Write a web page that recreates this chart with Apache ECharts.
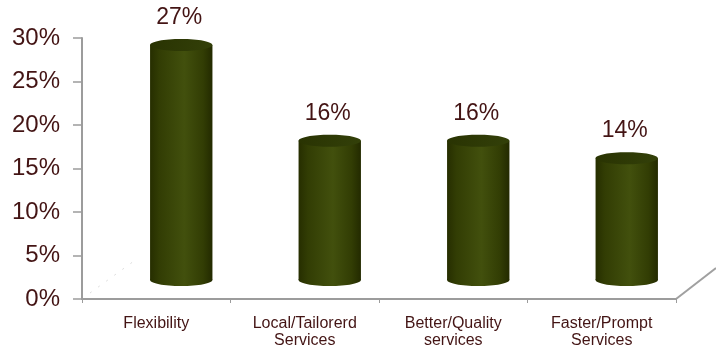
<!DOCTYPE html>
<html>
<head>
<meta charset="utf-8">
<script src="https://cdn.jsdelivr.net/npm/echarts@6/dist/echarts.min.js"></script>
<style>html,body{margin:0;padding:0;background:#fff}#c{width:716px;height:352px}</style>
</head>
<body>
<div id="c"></div>
<script>
const categories = ['Flexibility', 'Local/Tailorerd\nServices', 'Better/Quality\nservices', 'Faster/Prompt\nServices'];
const values = [27, 16, 16, 14];
const yTicks = [0, 5, 10, 15, 20, 25, 30];

const G = {left: 82, right: 40, top: 38, bottom: 53};
const textColor = '#431414';
const DEPTH = 19;     // 3D depth shift (pixels)
const OFFX = 25;      // 3D horizontal shift

const chart = echarts.init(document.getElementById('c'));

function renderCyl(params, api) {
  const i = api.value(0), v = api.value(1);
  const top = api.coord([i, v]);
  const base = api.coord([i, 0]);
  const band = api.size([1, 0])[0];
  const w = band * 0.42;
  const cx = top[0] + OFFX;
  const ry = 6;
  const yTop = top[1] - DEPTH;
  const yBot = base[1] - DEPTH;
  const body = new echarts.graphic.LinearGradient(0, 0, 1, 0, [
    {offset: 0, color: '#262e00'},
    {offset: 0.15, color: '#323d04'},
    {offset: 0.55, color: '#42500d'},
    {offset: 0.85, color: '#323d04'},
    {offset: 1, color: '#232a00'}
  ]);
  return {
    type: 'group',
    children: [
      {type: 'ellipse', shape: {cx: cx, cy: yBot, rx: w / 2, ry: ry}, style: {fill: body}},
      {type: 'rect', shape: {x: cx - w / 2, y: yTop, width: w, height: yBot - yTop}, style: {fill: body}},
      {type: 'ellipse', shape: {cx: cx, cy: yTop, rx: w / 2, ry: ry},
        style: {fill: new echarts.graphic.LinearGradient(0, 0, 1, 1, [
          {offset: 0, color: '#293302'}, {offset: 1, color: '#334009'}
        ])}},
      {type: 'text', style: {text: v + '%', x: cx - 2, y: yTop - ry - 10, align: 'center', verticalAlign: 'bottom',
        font: '23px "Liberation Sans", Arial, sans-serif', fill: textColor}}
    ]
  };
}

chart.setOption({
  animation: false,
  backgroundColor: '#fff',
  grid: G,
  xAxis: {
    type: 'category',
    data: categories,
    axisLine: {lineStyle: {color: '#9c9c9c', width: 2}},
    axisTick: {show: true, length: 4, lineStyle: {color: '#9c9c9c'}},
    axisLabel: {color: textColor, fontSize: 16, fontFamily: '"Liberation Sans", Arial', margin: 16, lineHeight: 17}
  },
  yAxis: {
    type: 'value',
    min: yTicks[0], max: yTicks[yTicks.length - 1], interval: 5,
    axisLine: {show: true, lineStyle: {color: '#9c9c9c', width: 2}},
    axisTick: {show: true, length: 9, lineStyle: {color: '#9c9c9c', width: 1.5}},
    splitLine: {show: false},
    axisLabel: {formatter: '{value}%', color: textColor, fontSize: 24, fontFamily: '"Liberation Sans", Arial', margin: 22}
  },
  series: [{
    type: 'custom',
    renderItem: renderCyl,
    data: values.map((v, i) => [i, v]),
    clip: false
  }]
});

// decorative 3D floor edges
const x0 = G.left, x1 = 716 - G.right, yb = 352 - G.bottom;
chart.setOption({
  graphic: [
    {type: 'polyline', shape: {points: [[x0 + 8, yb - 6], [x0 + 52, yb - 38]]},
      style: {stroke: '#dddddd', lineWidth: 1, lineDash: [2, 8]}, silent: true},
    {type: 'line', shape: {x1: x1, y1: yb, x2: x1 + 40, y2: yb - 31},
      style: {stroke: '#a0a0a0', lineWidth: 2}, silent: true}
  ]
});
</script>
</body>
</html>
